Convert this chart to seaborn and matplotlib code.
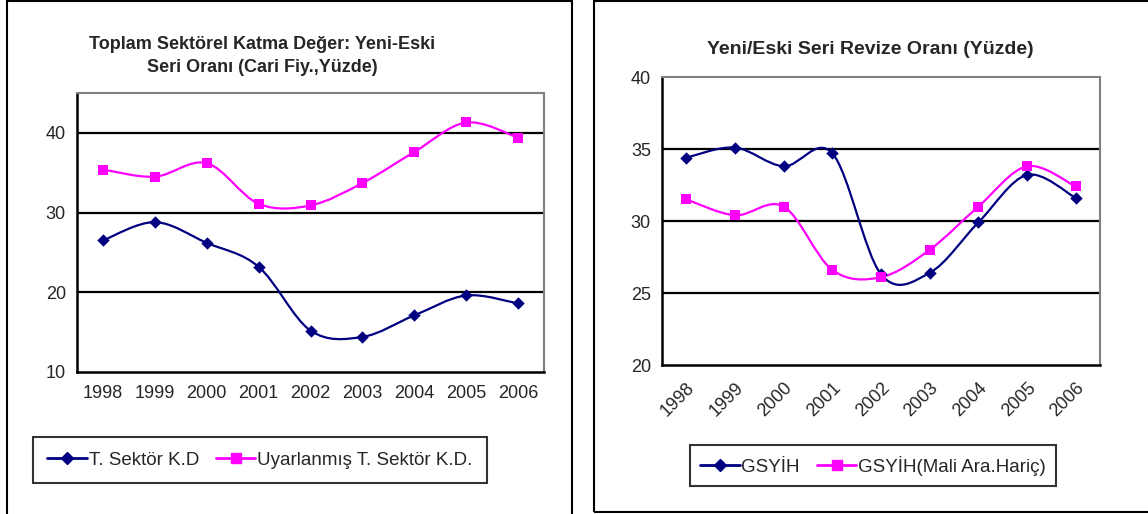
import matplotlib
matplotlib.use("Agg")
import matplotlib.pyplot as plt
from matplotlib.path import Path
from matplotlib.patches import PathPatch, Rectangle
from matplotlib.lines import Line2D
import seaborn as sns
import numpy as np
import pandas as pd

sns.set_style("white")
plt.rcParams["font.family"] = ["Liberation Sans", "DejaVu Sans"]

years = ["1998", "1999", "2000", "2001", "2002", "2003", "2004", "2005", "2006"]

# left chart
sektor_kd = [26.5, 28.8, 26.2, 23.2, 15.2, 14.4, 17.1, 19.6, 18.6]
uyarlanmis_kd = [35.4, 34.5, 36.2, 31.1, 30.9, 33.7, 37.6, 41.3, 39.4]

# right chart
gsyih = [34.4, 35.1, 33.8, 34.7, 26.3, 26.4, 29.9, 33.2, 31.6]
gsyih_mali = [31.5, 30.4, 31.0, 26.6, 26.1, 28.0, 31.0, 33.8, 32.4]

NAVY = "#000080"
MAGENTA = "#FF00FF"
W, H = 1148, 514


def smooth_path(x, y):
    # excel-style smoothed line: cubic bezier through every point
    p = np.column_stack([x, y]).astype(float)
    n = len(p)
    verts, codes = [p[0]], [Path.MOVETO]
    for i in range(n - 1):
        a = p[i - 1] if i > 0 else p[i]
        d = p[i + 2] if i + 2 < n else p[i + 1]
        c1 = p[i] + (p[i + 1] - a) / 6
        c2 = p[i + 1] - (d - p[i]) / 6
        verts += [c1, c2, p[i + 1]]
        codes += [Path.CURVE4] * 3
    return Path(verts, codes)


def px_axes(fig, left, top, right, bottom):
    return fig.add_axes([left / W, 1 - bottom / H, (right - left) / W, (bottom - top) / H])


def draw_series(ax, vals, color, marker, size):
    x = np.arange(len(vals))
    ax.add_patch(PathPatch(smooth_path(x, vals), fill=False, edgecolor=color, lw=1.6, zorder=3))
    df = pd.DataFrame({"x": x, "y": vals})
    sns.scatterplot(data=df, x="x", y="y", ax=ax, color=color, marker=marker, s=size,
                    edgecolor=color, linewidth=0, zorder=4, legend=False)


def style_axes(ax, ylim, yticks, rotate):
    n = len(years)
    ax.set_xlim(-0.5, n - 0.5)
    ax.set_ylim(*ylim)
    ax.set_yticks(yticks)
    ax.set_xticks(np.arange(-0.5, n), labels=[""] * (n + 1))
    ax.set_xticks(np.arange(n), minor=True)
    if rotate:
        ax.set_xticklabels(years, minor=True, rotation=45, ha="right", va="top",
                           rotation_mode="anchor")
    else:
        ax.set_xticklabels(years, minor=True)
    ax.tick_params(axis="x", which="major", direction="out", length=6, width=1.5, color="black")
    ax.tick_params(axis="x", which="minor", length=0, pad=9 if not rotate else 10, labelsize=13)
    ax.tick_params(axis="y", direction="out", length=5, width=1.5, color="black", labelsize=13, pad=3)
    ax.set_xlabel("")
    ax.set_ylabel("")
    for y in yticks:
        if ylim[0] < y < ylim[1]:
            ax.axhline(y, color="black", lw=1.6, zorder=1)
    for s in ["left", "bottom"]:
        ax.spines[s].set_color("black")
        ax.spines[s].set_linewidth(1.8)
    for s in ["top", "right"]:
        ax.spines[s].set_color("#808080")
        ax.spines[s].set_linewidth(1.5)


fig = plt.figure(figsize=(W / 100, H / 100), dpi=100)

# panel borders
fig.patches.append(Rectangle((7 / W, -0.05), 565 / W, 1.05 - 1 / H, transform=fig.transFigure,
                             fill=False, edgecolor="black", lw=1.5))
fig.patches.append(Rectangle((594 / W, 2 / H), 0.6, 1 - 3 / H, transform=fig.transFigure,
                             fill=False, edgecolor="black", lw=1.5))

ax1 = px_axes(fig, 77, 93, 544, 372)
draw_series(ax1, sektor_kd, NAVY, "D", 40)
draw_series(ax1, uyarlanmis_kd, MAGENTA, "s", 55)
style_axes(ax1, (10, 45), [10, 20, 30, 40], rotate=False)
fig.text(262 / W, 1 - 56 / H, "Toplam Sektörel Katma Değer: Yeni-Eski\nSeri Oranı (Cari Fiy.,Yüzde)",
         ha="center", va="center", fontsize=13, fontweight="bold", linespacing=1.4)

ax2 = px_axes(fig, 662, 77, 1100, 365)
draw_series(ax2, gsyih, NAVY, "D", 40)
draw_series(ax2, gsyih_mali, MAGENTA, "s", 55)
style_axes(ax2, (20, 40), [20, 25, 30, 35, 40], rotate=True)
fig.text(870 / W, 1 - 49 / H, "Yeni/Eski Seri Revize Oranı (Yüzde)",
         ha="center", va="center", fontsize=14, fontweight="bold")


def handles(labels):
    return [Line2D([], [], color=NAVY, lw=2, marker="D", markersize=6, label=labels[0]),
            Line2D([], [], color=MAGENTA, lw=2, marker="s", markersize=7, label=labels[1])]


leg_kw = dict(loc="center", ncol=2, fontsize=13.5, frameon=True, fancybox=False, handlelength=2.1,
              handletextpad=0.1, columnspacing=0.9, borderpad=0.75, borderaxespad=0,
              markerscale=1)
l1 = fig.legend(handles=handles(["T. Sektör K.D", "Uyarlanmış T. Sektör K.D."]),
                bbox_to_anchor=(260 / W, 1 - 460 / H), **leg_kw)
leg_kw["borderpad"] = 0.55
l2 = fig.legend(handles=handles(["GSYİH", "GSYİH(Mali Ara.Hariç)"]),
                bbox_to_anchor=(873 / W, 1 - 465.5 / H), **leg_kw)
for leg in (l1, l2):
    leg.get_frame().set_edgecolor("black")
    leg.get_frame().set_linewidth(1.5)

fig.savefig("out.png", dpi=100)
